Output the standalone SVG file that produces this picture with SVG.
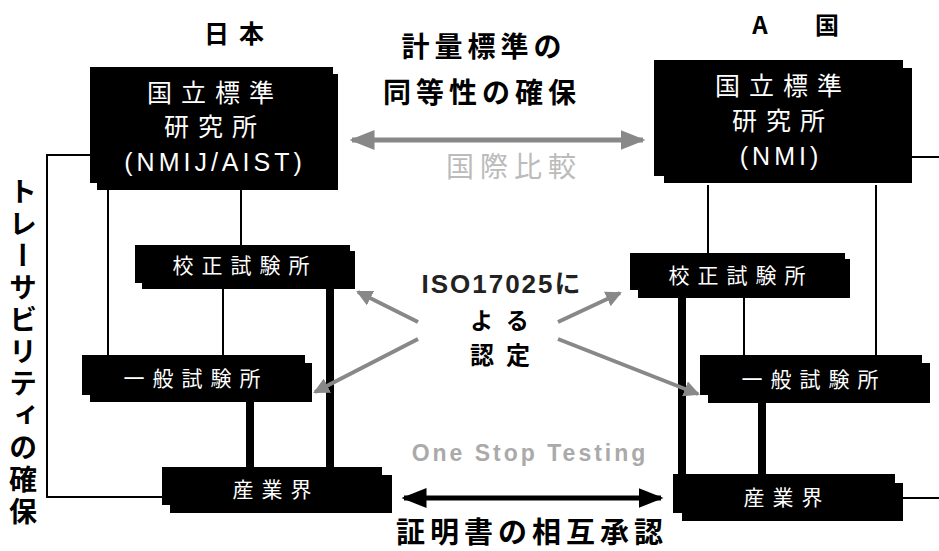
<svg xmlns="http://www.w3.org/2000/svg" width="939" height="551" viewBox="0 0 939 551">
<style>
.box{fill:#000}
.bt{fill:#fff;font-family:"Noto Sans CJK JP","Noto Sans",sans-serif;font-size:21px;letter-spacing:8px;text-anchor:middle}
.bt2{fill:#fff;font-family:"Noto Sans CJK JP","Noto Sans",sans-serif;font-size:25px;letter-spacing:9px;text-anchor:middle}
.bl{fill:#fff;font-family:"Liberation Sans",Arial,sans-serif;font-size:25px;letter-spacing:4px;text-anchor:middle}
.hd{fill:#000;font-family:"Noto Sans CJK JP",sans-serif;font-weight:bold;text-anchor:middle}
.thin{stroke:#000;stroke-width:2;fill:none}
.thick{stroke:#000;stroke-width:8;fill:none}
.gray{stroke:#888;stroke-width:4;fill:none}
</style>
<defs>
<marker id="ga" markerWidth="5" markerHeight="4" refX="4.5" refY="2" orient="auto-start-reverse" markerUnits="strokeWidth"><path d="M0,0 L5,2 L0,4 z" fill="#888"/></marker>
<marker id="ba" markerWidth="5" markerHeight="4" refX="4.5" refY="2" orient="auto-start-reverse" markerUnits="strokeWidth"><path d="M0,0 L5,2 L0,4 z" fill="#000"/></marker>
<marker id="gs" markerWidth="4" markerHeight="4" refX="3.5" refY="2" orient="auto" markerUnits="strokeWidth"><path d="M0,0 L4,2 L0,4 z" fill="#888"/></marker>
</defs>
<rect width="939" height="551" fill="#fff"/>

<g id="connectors">
<path class="thin" d="M90,155 H47 V497 H162"/>
<path class="thin" d="M108,190 V355"/>
<path class="thin" d="M241,190 V245"/>
<path class="thin" d="M223,289 V355"/>
<path class="thick" d="M330,289 V467"/>
<path class="thick" d="M250,402 V467"/>
<path class="thin" d="M912,157 H939"/>
<path class="thin" d="M708,185 V253"/>
<path class="thin" d="M876,185 V355"/>
<path class="thin" d="M744,298 V355"/>
<path class="thick" d="M682,298 V474"/>
<path class="thick" d="M762,403 V474"/>
<path class="thin" d="M903,498 H939"/>
<line x1="352" y1="140" x2="643" y2="140" stroke="#888" stroke-width="5" marker-start="url(#ga)" marker-end="url(#ga)"/>
<line x1="404" y1="498" x2="661" y2="498" stroke="#000" stroke-width="5" marker-start="url(#ba)" marker-end="url(#ba)"/>
<line class="gray" x1="418" y1="322" x2="358" y2="292" marker-end="url(#gs)"/>
<line class="gray" x1="418" y1="339" x2="315" y2="392" marker-end="url(#gs)"/>
<line class="gray" x1="558" y1="322" x2="620" y2="293" marker-end="url(#gs)"/>
<line class="gray" x1="558" y1="339" x2="698" y2="394" marker-end="url(#gs)"/>
</g>

<g id="jp-nmi">
<rect class="box" x="90" y="67" width="243" height="116"/>
<rect class="box" x="97" y="74" width="241" height="116"/>
<text class="bt2" x="215" y="102">国立標準</text>
<text class="bt2" x="215" y="136">研究所</text>
<text class="bl" x="215" y="171">(NMIJ/AIST)</text>
</g>
<g id="a-nmi">
<rect class="box" x="654" y="60" width="249" height="116"/>
<rect class="box" x="664" y="68" width="248" height="115"/>
<text class="bt2" x="783" y="95">国立標準</text>
<text class="bt2" x="783" y="130">研究所</text>
<text class="bl" x="781" y="165">(NMI)</text>
</g>
<g id="jp-calib">
<rect class="box" x="135" y="245" width="215" height="38"/>
<rect class="box" x="142" y="251" width="213" height="38"/>
<text class="bt" x="245" y="273">校正試験所</text>
</g>
<g id="jp-test">
<rect class="box" x="82" y="355" width="223" height="40"/>
<rect class="box" x="90" y="363" width="222" height="39"/>
<text class="bt" x="196" y="386">一般試験所</text>
</g>
<g id="jp-ind">
<rect class="box" x="162" y="467" width="220" height="38"/>
<rect class="box" x="170" y="475" width="222" height="38"/>
<text class="bt" x="276" y="497">産業界</text>
</g>
<g id="a-calib">
<rect class="box" x="630" y="253" width="215" height="37"/>
<rect class="box" x="638" y="259" width="212" height="39"/>
<text class="bt" x="741" y="283">校正試験所</text>
</g>
<g id="a-test">
<rect class="box" x="700" y="355" width="222" height="40"/>
<rect class="box" x="708" y="363" width="222" height="40"/>
<text class="bt" x="814" y="387">一般試験所</text>
</g>
<g id="a-ind">
<rect class="box" x="673" y="474" width="222" height="39"/>
<rect class="box" x="682" y="483" width="221" height="38"/>
<text class="bt" x="787" y="505">産業界</text>
</g>

<g id="labels">
<text class="hd" x="239" y="43" font-size="25" letter-spacing="10">日本</text>
<text class="hd" font-size="24"><tspan x="760" y="34">A</tspan><tspan x="827" y="34">国</tspan></text>
<text class="hd" x="484" y="57" font-size="28" letter-spacing="5">計量標準の</text>
<text class="hd" x="482" y="103" font-size="28" letter-spacing="5">同等性の確保</text>
<text x="514" y="177" font-family="Noto Sans CJK JP,sans-serif" font-size="28" letter-spacing="6" fill="#bbb" text-anchor="middle">国際比較</text>
<text x="502" y="293" font-family="Liberation Sans,Noto Sans CJK JP,sans-serif" font-weight="bold" font-size="26" letter-spacing="2" fill="#222" text-anchor="middle">ISO17025に</text>
<text class="hd" x="506" y="329" font-size="23" letter-spacing="13" fill="#222">よる</text>
<text class="hd" x="506" y="364" font-size="24" letter-spacing="12" fill="#222">認定</text>
<text x="530" y="461" font-family="Liberation Sans,Arial,sans-serif" font-weight="bold" font-size="23" letter-spacing="3" fill="#aaa" text-anchor="middle">One Stop Testing</text>
<text class="hd" x="532" y="543" font-size="29" letter-spacing="5">証明書の相互承認</text>
<text x="23" y="177" font-family="Noto Sans CJK JP,sans-serif" font-weight="bold" font-size="28" letter-spacing="4" style="writing-mode:vertical-rl" fill="#000">トレーサビリティの確保</text>
</g>
</svg>
